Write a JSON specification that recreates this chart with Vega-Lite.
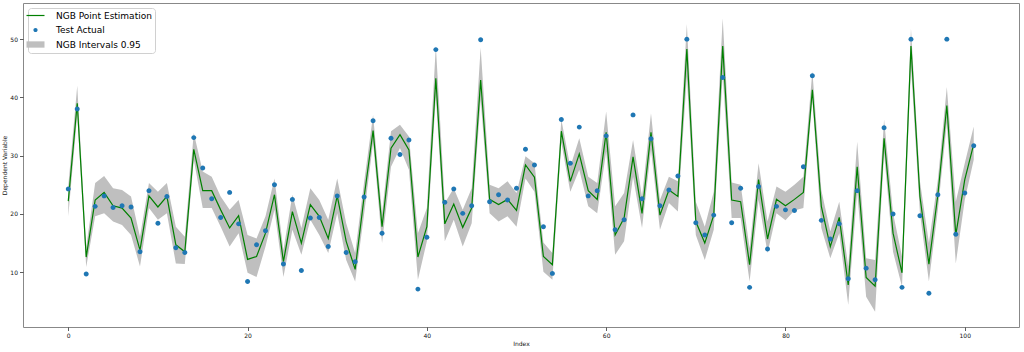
{
  "$schema": "https://vega.github.io/schema/vega-lite/v6.json",
  "width": 996,
  "height": 324,
  "autosize": {"type": "none"},
  "padding": {"left": 23, "top": 3, "right": 5, "bottom": 25},
  "background": "white",
  "config": {
    "font": "DejaVu Sans",
    "view": {"stroke": "#888", "strokeWidth": 1},
    "axis": {
      "grid": false, "domain": false, "tickColor": "#333", "tickSize": 3.5, "tickWidth": 0.8,
      "labelFont": "DejaVu Sans", "labelFontSize": 6, "labelColor": "#111", "labelPadding": 2,
      "titleFont": "DejaVu Sans", "titleFontSize": 6, "titleFontWeight": "normal", "titleColor": "#111", "titlePadding": 2
    },
    "legend": {
      "orient": "top-left",
      "offset": 5,
      "fillColor": "white",
      "strokeColor": "#d0d0d0",
      "cornerRadius": 3,
      "padding": 3,
      "labelFont": "DejaVu Sans",
      "labelFontSize": 9,
      "labelColor": "#000",
      "labelOffset": 16,
      "rowPadding": 4.5,
      "symbolSize": 36,
      "symbolStrokeWidth": 0,
      "symbolOpacity": 1
    }
  },
  "data": {"values": [
    {"i":0,"a":24.3,"p":22.2,"lo":19.6,"hi":24.8},
    {"i":1,"a":38.0,"p":39.0,"lo":37.0,"hi":42.0},
    {"i":2,"a":9.7,"p":12.6,"lo":10.9,"hi":14.3},
    {"i":3,"a":21.3,"p":22.4,"lo":19.6,"hi":25.3},
    {"i":4,"a":23.1,"p":23.7,"lo":20.1,"hi":26.5},
    {"i":5,"a":21.1,"p":21.4,"lo":18.7,"hi":24.4},
    {"i":6,"a":21.4,"p":21.0,"lo":18.1,"hi":24.1},
    {"i":7,"a":21.2,"p":19.3,"lo":16.4,"hi":23.0},
    {"i":8,"a":13.5,"p":13.8,"lo":11.0,"hi":16.1},
    {"i":9,"a":24.0,"p":23.1,"lo":21.0,"hi":25.3},
    {"i":10,"a":18.4,"p":21.2,"lo":19.0,"hi":23.8},
    {"i":11,"a":23.0,"p":23.0,"lo":20.1,"hi":25.3},
    {"i":12,"a":14.2,"p":14.7,"lo":11.5,"hi":17.8},
    {"i":13,"a":13.4,"p":13.5,"lo":11.4,"hi":16.1},
    {"i":14,"a":33.1,"p":31.1,"lo":29.3,"hi":33.9},
    {"i":15,"a":27.9,"p":24.0,"lo":21.0,"hi":27.3},
    {"i":16,"a":22.6,"p":24.0,"lo":21.0,"hi":26.4},
    {"i":17,"a":19.4,"p":20.7,"lo":17.8,"hi":23.0},
    {"i":18,"a":23.7,"p":17.6,"lo":14.4,"hi":20.7},
    {"i":19,"a":18.3,"p":19.7,"lo":16.7,"hi":22.4},
    {"i":20,"a":8.4,"p":12.2,"lo":9.9,"hi":16.4},
    {"i":21,"a":14.7,"p":12.7,"lo":9.2,"hi":15.8},
    {"i":22,"a":17.1,"p":16.7,"lo":14.4,"hi":19.6},
    {"i":23,"a":25.0,"p":23.3,"lo":20.7,"hi":26.1},
    {"i":24,"a":11.4,"p":11.8,"lo":9.2,"hi":13.8},
    {"i":25,"a":22.5,"p":20.4,"lo":17.3,"hi":23.3},
    {"i":26,"a":10.3,"p":15.0,"lo":13.0,"hi":17.6},
    {"i":27,"a":19.3,"p":21.6,"lo":19.0,"hi":24.4},
    {"i":28,"a":19.4,"p":19.6,"lo":16.4,"hi":22.4},
    {"i":29,"a":14.4,"p":15.8,"lo":13.3,"hi":19.0},
    {"i":30,"a":23.1,"p":23.1,"lo":20.1,"hi":26.1},
    {"i":31,"a":13.4,"p":15.3,"lo":12.1,"hi":18.4},
    {"i":32,"a":11.8,"p":10.5,"lo":8.4,"hi":13.3},
    {"i":33,"a":22.9,"p":22.9,"lo":20.0,"hi":25.5},
    {"i":34,"a":36.0,"p":34.3,"lo":32.2,"hi":37.0},
    {"i":35,"a":16.7,"p":17.8,"lo":15.0,"hi":20.1},
    {"i":36,"a":33.0,"p":31.3,"lo":28.1,"hi":34.2},
    {"i":37,"a":30.2,"p":33.6,"lo":31.3,"hi":35.3},
    {"i":38,"a":32.7,"p":31.0,"lo":27.6,"hi":33.3},
    {"i":39,"a":7.1,"p":12.6,"lo":8.7,"hi":16.7},
    {"i":40,"a":16.0,"p":17.8,"lo":15.3,"hi":21.0},
    {"i":41,"a":48.2,"p":43.3,"lo":40.2,"hi":48.8},
    {"i":42,"a":22.0,"p":18.3,"lo":15.3,"hi":21.9},
    {"i":43,"a":24.3,"p":21.7,"lo":19.0,"hi":24.4},
    {"i":44,"a":20.1,"p":17.7,"lo":14.4,"hi":20.7},
    {"i":45,"a":21.4,"p":21.0,"lo":18.4,"hi":24.4},
    {"i":46,"a":49.9,"p":43.0,"lo":39.6,"hi":48.5},
    {"i":47,"a":22.1,"p":22.5,"lo":20.1,"hi":25.0},
    {"i":48,"a":23.3,"p":21.6,"lo":18.7,"hi":24.4},
    {"i":49,"a":22.4,"p":22.5,"lo":19.6,"hi":25.6},
    {"i":50,"a":24.4,"p":20.6,"lo":17.8,"hi":23.6},
    {"i":51,"a":31.1,"p":28.4,"lo":26.1,"hi":29.9},
    {"i":52,"a":28.4,"p":26.3,"lo":23.8,"hi":28.7},
    {"i":53,"a":17.8,"p":12.7,"lo":10.1,"hi":15.1},
    {"i":54,"a":9.8,"p":11.3,"lo":8.7,"hi":13.3},
    {"i":55,"a":36.2,"p":34.2,"lo":32.2,"hi":36.2},
    {"i":56,"a":28.7,"p":25.6,"lo":23.8,"hi":28.1},
    {"i":57,"a":34.9,"p":30.3,"lo":27.6,"hi":33.0},
    {"i":58,"a":23.1,"p":24.0,"lo":21.3,"hi":26.4},
    {"i":59,"a":24.0,"p":22.5,"lo":20.1,"hi":25.3},
    {"i":60,"a":33.4,"p":34.0,"lo":30.7,"hi":37.6},
    {"i":61,"a":17.3,"p":16.4,"lo":13.0,"hi":21.3},
    {"i":62,"a":19.0,"p":19.3,"lo":15.3,"hi":23.6},
    {"i":63,"a":37.0,"p":29.8,"lo":26.4,"hi":32.7},
    {"i":64,"a":22.6,"p":20.1,"lo":17.6,"hi":23.0},
    {"i":65,"a":32.9,"p":34.0,"lo":31.0,"hi":37.3},
    {"i":66,"a":21.4,"p":19.8,"lo":17.3,"hi":22.4},
    {"i":67,"a":24.1,"p":24.1,"lo":21.9,"hi":26.4},
    {"i":68,"a":26.5,"p":23.0,"lo":20.4,"hi":25.6},
    {"i":69,"a":50.0,"p":48.3,"lo":43.6,"hi":52.6},
    {"i":70,"a":18.5,"p":18.7,"lo":16.4,"hi":22.1},
    {"i":71,"a":16.4,"p":15.0,"lo":12.1,"hi":17.8},
    {"i":72,"a":19.8,"p":19.8,"lo":17.3,"hi":23.8},
    {"i":73,"a":43.4,"p":48.8,"lo":43.9,"hi":53.6},
    {"i":74,"a":18.5,"p":22.4,"lo":19.3,"hi":25.4},
    {"i":75,"a":24.4,"p":22.1,"lo":19.3,"hi":25.0},
    {"i":76,"a":7.4,"p":11.3,"lo":8.4,"hi":14.1},
    {"i":77,"a":24.7,"p":25.9,"lo":22.4,"hi":28.7},
    {"i":78,"a":14.0,"p":15.7,"lo":13.3,"hi":18.7},
    {"i":79,"a":21.3,"p":22.5,"lo":20.1,"hi":24.7},
    {"i":80,"a":20.7,"p":21.4,"lo":18.9,"hi":23.8},
    {"i":81,"a":20.6,"p":22.5,"lo":20.6,"hi":25.0},
    {"i":82,"a":28.1,"p":23.7,"lo":21.0,"hi":26.4},
    {"i":83,"a":43.7,"p":41.3,"lo":39.6,"hi":44.5},
    {"i":84,"a":18.9,"p":21.3,"lo":17.6,"hi":24.1},
    {"i":85,"a":15.7,"p":14.4,"lo":12.4,"hi":17.0},
    {"i":86,"a":18.3,"p":19.4,"lo":16.7,"hi":22.1},
    {"i":87,"a":8.9,"p":7.8,"lo":4.4,"hi":11.0},
    {"i":88,"a":24.0,"p":28.1,"lo":23.8,"hi":32.4},
    {"i":89,"a":10.7,"p":9.1,"lo":5.8,"hi":12.4},
    {"i":90,"a":8.7,"p":7.6,"lo":3.2,"hi":12.1},
    {"i":91,"a":34.8,"p":33.0,"lo":30.4,"hi":36.2},
    {"i":92,"a":20.0,"p":16.7,"lo":13.5,"hi":20.1},
    {"i":93,"a":7.4,"p":9.9,"lo":7.5,"hi":12.7},
    {"i":94,"a":50.0,"p":48.8,"lo":45.3,"hi":51.8},
    {"i":95,"a":19.7,"p":23.0,"lo":20.1,"hi":25.6},
    {"i":96,"a":6.4,"p":11.4,"lo":8.4,"hi":15.0},
    {"i":97,"a":23.3,"p":23.3,"lo":20.7,"hi":25.9},
    {"i":98,"a":50.0,"p":38.6,"lo":35.6,"hi":41.8},
    {"i":99,"a":16.5,"p":16.4,"lo":11.5,"hi":22.1},
    {"i":100,"a":23.6,"p":25.9,"lo":22.4,"hi":28.7},
    {"i":101,"a":31.7,"p":32.0,"lo":29.3,"hi":35.0}
  ]},
  "encoding": {
    "x": {
      "field": "i", "type": "quantitative",
      "scale": {"domain": [-5.05, 106.05], "nice": false, "zero": false},
      "axis": {"values": [0, 20, 40, 60, 80, 100], "title": "Index", "format": "d"}
    }
  },
  "layer": [
    {
      "mark": {"type": "area", "opacity": 1},
      "encoding": {
        "y": {
          "field": "hi", "type": "quantitative",
          "scale": {"domain": [0.6, 56.2], "nice": false, "zero": false},
          "axis": {"values": [10, 20, 30, 40, 50], "title": "Dependent Variable"}
        },
        "y2": {"field": "lo"},
        "color": {
          "datum": "NGB Intervals 0.95",
          "scale": {
            "domain": ["NGB Point Estimation", "Test Actual", "NGB Intervals 0.95"],
            "range": ["green", "#1f77b4", "#bfbfbf"]
          },
          "legend": {"title": null}
        }
      }
    },
    {
      "mark": {"type": "line", "strokeWidth": 1.2},
      "encoding": {
        "y": {"field": "p", "type": "quantitative"},
        "color": {"datum": "NGB Point Estimation"}
      }
    },
    {
      "mark": {"type": "point", "filled": true, "size": 50, "opacity": 1},
      "encoding": {
        "y": {"field": "a", "type": "quantitative"},
        "color": {"datum": "Test Actual"},
        "shape": {
          "datum": "Test Actual",
          "scale": {
            "domain": ["NGB Point Estimation", "Test Actual", "NGB Intervals 0.95"],
            "range": ["M-3,-0.2H3V0.2H-3Z", "M0.7,0A0.7,0.7 0 1,1 -0.7,0A0.7,0.7 0 1,1 0.7,0Z", "M-3,-1.05H3V1.05H-3Z"]
          },
          "legend": {"title": null}
        }
      }
    }
  ]
}
